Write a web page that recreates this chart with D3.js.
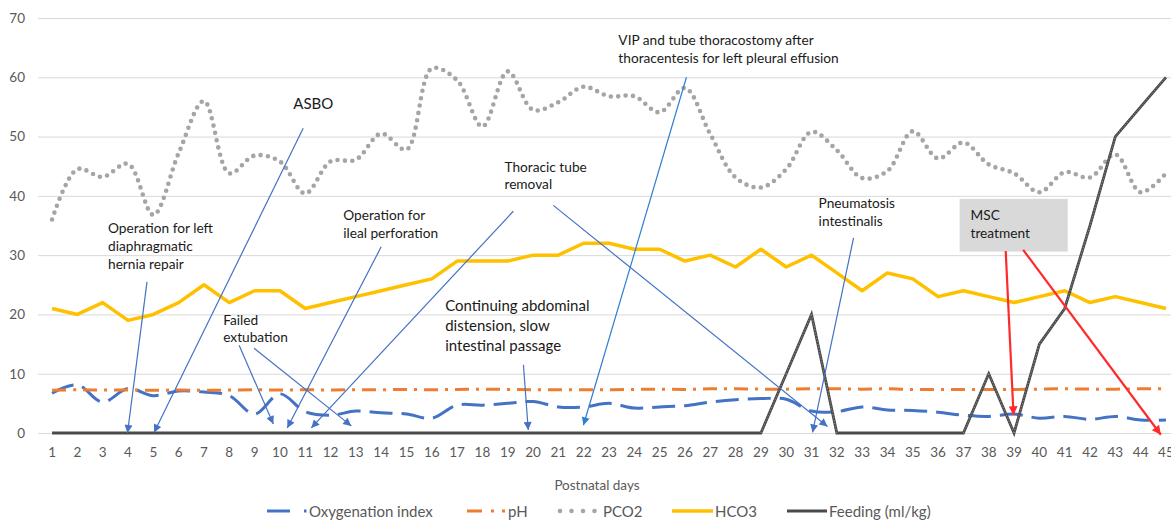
<!DOCTYPE html>
<html>
<head>
<meta charset="utf-8">
<script src="https://cdn.jsdelivr.net/npm/d3@7"></script>
<style>
  html, body { margin: 0; padding: 0; background: #fff; overflow: hidden; }
  svg { display: block; font-family: Lato, "Open Sans", sans-serif; }
</style>
</head>
<body>
<svg id="chart" width="1171" height="521"></svg>
<script>
// Postnatal day categories
const days = [1, 2, 3, 4, 5, 6, 7, 8, 9, 10, 11, 12, 13, 14, 15, 16, 17, 18, 19, 20,
  21, 22, 23, 24, 25, 26, 27, 28, 29, 30, 31, 32, 33, 34, 35, 36, 37, 38, 39, 40,
  41, 42, 43, 44, 45];

const oxygenationIndex = [6.7, 8.1, 5.2, 7.5, 6.3, 7.1, 6.9, 6.3, 3.2, 6.6,
  3.6, 3.0, 3.7, 3.4, 3.2, 2.5, 4.7, 4.7, 5.0, 5.3,
  4.4, 4.4, 5.0, 4.2, 4.4, 4.6, 5.2, 5.6, 5.8, 5.7,
  3.7, 3.6, 4.4, 3.9, 3.8, 3.5, 3.0, 2.8, 3.2, 2.5,
  2.8, 2.3, 2.8, 2.2, 2.2];

const pH = [7.2, 7.3, 7.25, 7.25, 7.2, 7.25, 7.2, 7.25, 7.3, 7.25,
  7.3, 7.25, 7.3, 7.3, 7.35, 7.3, 7.35, 7.4, 7.35, 7.3,
  7.3, 7.3, 7.3, 7.35, 7.4, 7.35, 7.45, 7.45, 7.4, 7.4,
  7.45, 7.45, 7.4, 7.45, 7.35, 7.35, 7.35, 7.35, 7.35, 7.4,
  7.45, 7.4, 7.4, 7.45, 7.45];

const pco2 = [36.0, 44.5, 43.2, 45.4, 36.8, 47.2, 56.0, 43.8, 46.8, 45.8,
  40.4, 45.8, 46.1, 50.5, 47.8, 61.5, 59.5, 51.7, 61.0, 54.5,
  55.8, 58.4, 56.8, 56.8, 54.1, 58.2, 50.4, 43.1, 41.4, 44.5,
  50.8, 47.7, 43.0, 44.2, 50.9, 46.3, 49.0, 45.3, 43.8, 40.6,
  44.0, 43.1, 47.0, 40.6, 43.8];

const hco3 = [21, 20, 22, 19, 20, 22, 25, 22, 24, 24,
  21, 22, 23, 24, 25, 26, 29, 29, 29, 30,
  30, 32, 32, 31, 31, 29, 30, 28, 31, 28,
  30, 27, 24, 27, 26, 23, 24, 23, 22, 23,
  24, 22, 23, 22, 21];

const feeding = [0, 0, 0, 0, 0, 0, 0, 0, 0, 0,
  0, 0, 0, 0, 0, 0, 0, 0, 0, 0,
  0, 0, 0, 0, 0, 0, 0, 0, 0, 10,
  20, 0, 0, 0, 0, 0, 0, 10, 0, 15,
  21, 35, 50, 55, 60];

const yTicks = [0, 10, 20, 30, 40, 50, 60, 70];

const seriesNames = ["Oxygenation index", "pH", "PCO2", "HCO3", "Feeding (ml/kg)"];

// Clinical events: text position, arrow start and end, in (day, value) units
const events = [
  { lines: ["Operation for left", "diaphragmatic", "hernia repair"], tx: 3.21, ty: 34.6,
    arrows: [{ from: [4.75, 25.5], to: [3.98, 0.0] }] },
  { lines: ["ASBO"], tx: 10.53, ty: 55.6, size: 15,
    arrows: [{ from: [10.92, 51.4], to: [5.03, 0.1] }] },
  { lines: ["Operation for", "ileal perforation"], tx: 12.5, ty: 36.8,
    arrows: [{ from: [14.0, 31.4], to: [10.29, 0.85] }] },
  { lines: ["Failed", "extubation"], tx: 7.76, ty: 19.2,
    arrows: [{ from: [8.39, 14.8], to: [9.74, 1.5] }, { from: [8.98, 14.3], to: [12.82, 1.2] }] },
  { lines: ["Thoracic tube", "removal"], tx: 18.87, ty: 45.0,
    arrows: [{ from: [19.22, 37.4], to: [11.24, 0.85] }, { from: [20.8, 38.4], to: [31.63, 1.1] }] },
  { lines: ["VIP and tube thoracostomy after", "thoracentesis for left pleural effusion"], tx: 23.37, ty: 66.3,
    tone: "light", arrows: [{ from: [26.06, 60.0], to: [21.99, 1.3] }] },
  { lines: ["Continuing abdominal", "distension, slow", "intestinal passage"], tx: 16.53, ty: 21.6, size: 15, lead: 20,
    arrows: [{ from: [19.62, 11.5], to: [19.81, 0.5] }] },
  { lines: ["Pneumatosis", "intestinalis"], tx: 31.28, ty: 38.8,
    arrows: [{ from: [32.66, 32.9], to: [31.04, 0.1] }] },
  { lines: ["MSC", "treatment"], tx: 37.28, ty: 36.8, box: { x0: 36.85, x1: 41.12, y0: 39.5, y1: 30.6 },
    tone: "red", arrows: [{ from: [38.67, 30.7], to: [38.98, 3.0] }, { from: [39.36, 30.9], to: [44.8, -0.3] }] }
];

const svg = d3.select("#chart");

const x = d3.scaleBand().domain(days).range([39.4, 1178.6]).paddingInner(0).paddingOuter(0);
const bw = x.bandwidth();
const cx = d => x(d) + bw / 2;
const xf = d => cx(days[0]) + (d - days[0]) * bw;   // fractional day position
const y = d3.scaleLinear().domain([0, 70]).range([433, 18]);

const plotLeft = 38, plotRight = 1180;
const labelFont = "Lato, 'Open Sans', sans-serif";

// Gridlines and value labels
const yAxis = svg.append("g")
  .attr("transform", `translate(${plotLeft},0)`)
  .call(d3.axisLeft(y).tickValues(yTicks).tickSize(-(plotRight - plotLeft)).tickPadding(13));
yAxis.select(".domain").remove();
yAxis.selectAll(".tick line").attr("stroke", "#d9d9d9").attr("stroke-width", 1);
yAxis.selectAll(".tick text").attr("fill", "#595959").style("font-size", "13.5px")
  .style("font-family", labelFont);

// Day labels
const xAxis = svg.append("g")
  .attr("transform", `translate(0,${y(0)})`)
  .call(d3.axisBottom(x).tickSize(0).tickPadding(14.5));
xAxis.select(".domain").remove();
xAxis.selectAll(".tick text").attr("fill", "#595959").style("font-size", "13.5px")
  .style("font-family", labelFont);

svg.append("text")
  .attr("x", 597).attr("y", 485).attr("text-anchor", "middle").attr("dominant-baseline", "central")
  .attr("fill", "#595959").style("font-size", "13.5px").text("Postnatal days");

const lineStraight = d3.line().x((d, i) => cx(days[i])).y(d => y(d));
const lineSmooth = d3.line().x((d, i) => cx(days[i])).y(d => y(d)).curve(d3.curveCatmullRom.alpha(0.5));

const series = svg.append("g");

// Oxygenation index
series.append("path").datum(oxygenationIndex)
  .attr("d", lineSmooth).attr("fill", "none")
  .attr("stroke", "#4472c4").attr("stroke-width", 3)
  .attr("stroke-dasharray", "23,9");

// pH
series.append("path").datum(pH)
  .attr("d", lineSmooth).attr("fill", "none")
  .attr("stroke", "#ed7d31").attr("stroke-width", 3)
  .attr("stroke-dasharray", "14,7,3,7");

// PCO2 (round dots)
series.append("path").datum(pco2)
  .attr("d", lineSmooth).attr("fill", "none")
  .attr("stroke", "#a5a5a5").attr("stroke-width", 4.6)
  .attr("stroke-linecap", "round").attr("stroke-dasharray", "0,7.4");

// HCO3
series.append("path").datum(hco3)
  .attr("d", lineStraight).attr("fill", "none")
  .attr("stroke", "#ffc000").attr("stroke-width", 3.5).attr("stroke-linejoin", "round");

// Feeding: solid base line, with a light hatch on the sloped segments (double-line look)
series.append("path").datum(feeding)
  .attr("d", lineStraight).attr("fill", "none")
  .attr("stroke", "#4a4a4a").attr("stroke-width", 2.8).attr("stroke-linejoin", "miter");
const slopedSegments = d3.pairs(days.map((d, i) => ({ d, v: feeding[i] })))
  .filter(([a, b]) => a.v !== b.v);
series.selectAll("line.feed-hatch").data(slopedSegments).join("line")
  .attr("class", "feed-hatch")
  .attr("x1", ([a]) => cx(a.d)).attr("y1", ([a]) => y(a.v))
  .attr("x2", ([, b]) => cx(b.d)).attr("y2", ([, b]) => y(b.v))
  .attr("stroke", "#b8b8b8").attr("stroke-width", 0.9).attr("stroke-opacity", 0.75)
  .attr("stroke-dasharray", "1.2,1.8");

// Arrow markers
const tones = { blue: "#4472c4", light: "#2f7fcf", red: "#ff2b2b" };
const defs = svg.append("defs");
Object.entries(tones).forEach(([k, c]) => {
  const big = k === "red";
  defs.append("marker")
    .attr("id", "arrow-" + k)
    .attr("viewBox", "0 0 10 10").attr("refX", 10).attr("refY", 5)
    .attr("markerUnits", "userSpaceOnUse")
    .attr("markerWidth", big ? 11 : 10).attr("markerHeight", big ? 9 : 8)
    .attr("orient", "auto")
    .append("path").attr("d", "M0,0 L10,5 L0,10 Z").attr("fill", c);
});

const notes = svg.append("g");
events.forEach(ev => {
  const tone = ev.tone || "blue";
  if (ev.box) {
    notes.append("rect")
      .attr("x", xf(ev.box.x0)).attr("y", y(ev.box.y0))
      .attr("width", xf(ev.box.x1) - xf(ev.box.x0)).attr("height", y(ev.box.y1) - y(ev.box.y0))
      .attr("fill", "#d9d9d9");
  }
  const size = ev.size || 13.7;
  const lead = ev.lead || 17.7;
  const t = notes.append("text")
    .attr("x", xf(ev.tx)).attr("y", y(ev.ty))
    .attr("fill", "#1a1a1a").style("font-size", size + "px");
  ev.lines.forEach((ln, i) => {
    t.append("tspan").attr("x", xf(ev.tx)).attr("y", y(ev.ty) + i * lead)
      .attr("dominant-baseline", "central").text(ln);
  });
  ev.arrows.forEach(a => {
    notes.append("line")
      .attr("x1", xf(a.from[0])).attr("y1", y(a.from[1]))
      .attr("x2", xf(a.to[0])).attr("y2", y(a.to[1]))
      .attr("stroke", tones[tone]).attr("stroke-width", tone === "red" ? 2.2 : 1.2)
      .attr("marker-end", `url(#arrow-${tone})`);
  });
});

// Legend
const legend = svg.append("g").attr("transform", "translate(0,511)");
const legendText = (x0, label) => legend.append("text")
  .attr("x", x0).attr("y", 0).attr("dominant-baseline", "central")
  .attr("fill", "#595959").style("font-size", "15px").text(label);

legend.append("line").attr("x1", 267).attr("x2", 290).attr("stroke", "#4472c4").attr("stroke-width", 3);
legend.append("line").attr("x1", 304).attr("x2", 306.5).attr("stroke", "#4472c4").attr("stroke-width", 3);
legendText(309, seriesNames[0]);

legend.append("line").attr("x1", 467).attr("x2", 482).attr("stroke", "#ed7d31").attr("stroke-width", 3);
legend.append("line").attr("x1", 491).attr("x2", 494).attr("stroke", "#ed7d31").attr("stroke-width", 3);
legend.append("line").attr("x1", 502).attr("x2", 505).attr("stroke", "#ed7d31").attr("stroke-width", 3);
legendText(508, seriesNames[1]);

legend.append("line").attr("x1", 560).attr("x2", 597).attr("stroke", "#a5a5a5").attr("stroke-width", 4.6)
  .attr("stroke-linecap", "round").attr("stroke-dasharray", "0,11.5");
legendText(603, seriesNames[2]);

legend.append("line").attr("x1", 672).attr("x2", 713).attr("stroke", "#ffc000").attr("stroke-width", 3.5);
legendText(715, seriesNames[3]);

legend.append("line").attr("x1", 787).attr("x2", 827).attr("stroke", "#4a4a4a").attr("stroke-width", 3);
legendText(829, seriesNames[4]);
</script>
</body>
</html>
